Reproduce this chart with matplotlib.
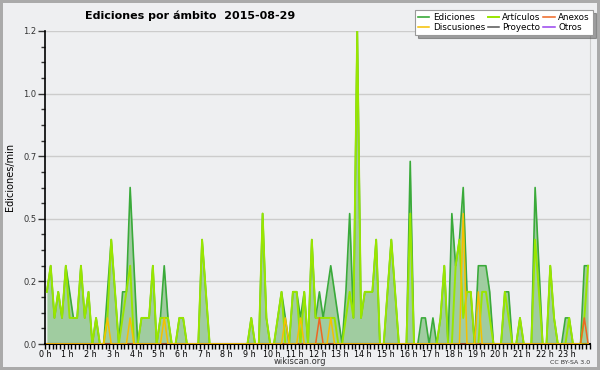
import numpy as np
import matplotlib
matplotlib.use("Agg")
import matplotlib.pyplot as plt
from matplotlib.ticker import MultipleLocator, FixedLocator, FormatStrFormatter
from matplotlib.lines import Line2D

# edits per minute, 10-minute bins, one row per hour
ediciones = [
    0.2, 0.3, 0.1, 0.2, 0.1, 0.3,
    0.2, 0.1, 0.1, 0.3, 0.1, 0.2,
    0.0, 0.1, 0.0, 0.0, 0.2, 0.4,
    0.2, 0.0, 0.2, 0.2, 0.6, 0.3,
    0.0, 0.1, 0.1, 0.1, 0.3, 0.0,
    0.1, 0.3, 0.1, 0.0, 0.0, 0.1,
    0.1, 0.0, 0.0, 0.0, 0.0, 0.4,
    0.2, 0.0, 0.0, 0.0, 0.0, 0.0,
    0.0, 0.0, 0.0, 0.0, 0.0, 0.0,
    0.1, 0.0, 0.0, 0.5, 0.1, 0.0,
    0.0, 0.1, 0.2, 0.1, 0.0, 0.2,
    0.2, 0.1, 0.2, 0.0, 0.4, 0.1,
    0.2, 0.1, 0.2, 0.3, 0.2, 0.1,
    0.0, 0.2, 0.5, 0.1, 1.2, 0.1,
    0.2, 0.2, 0.2, 0.4, 0.0, 0.0,
    0.2, 0.4, 0.2, 0.0, 0.0, 0.0,
    0.7, 0.0, 0.0, 0.1, 0.1, 0.0,
    0.1, 0.0, 0.1, 0.3, 0.0, 0.5,
    0.3, 0.4, 0.6, 0.2, 0.2, 0.0,
    0.3, 0.3, 0.3, 0.2, 0.0, 0.0,
    0.0, 0.2, 0.2, 0.0, 0.0, 0.1,
    0.0, 0.0, 0.0, 0.6, 0.3, 0.0,
    0.0, 0.3, 0.1, 0.0, 0.0, 0.1,
    0.1, 0.0, 0.0, 0.0, 0.3, 0.3,
]

articulos = [
    0.2, 0.3, 0.1, 0.2, 0.1, 0.3,
    0.1, 0.1, 0.1, 0.3, 0.1, 0.2,
    0.0, 0.1, 0.0, 0.0, 0.1, 0.4,
    0.2, 0.0, 0.1, 0.2, 0.3, 0.0,
    0.0, 0.1, 0.1, 0.1, 0.3, 0.0,
    0.1, 0.1, 0.1, 0.0, 0.0, 0.1,
    0.1, 0.0, 0.0, 0.0, 0.0, 0.4,
    0.2, 0.0, 0.0, 0.0, 0.0, 0.0,
    0.0, 0.0, 0.0, 0.0, 0.0, 0.0,
    0.1, 0.0, 0.0, 0.5, 0.1, 0.0,
    0.0, 0.1, 0.2, 0.0, 0.0, 0.2,
    0.2, 0.0, 0.2, 0.0, 0.4, 0.1,
    0.1, 0.1, 0.1, 0.1, 0.1, 0.0,
    0.0, 0.1, 0.2, 0.1, 1.2, 0.1,
    0.2, 0.2, 0.2, 0.4, 0.0, 0.0,
    0.2, 0.4, 0.2, 0.0, 0.0, 0.0,
    0.5, 0.0, 0.0, 0.0, 0.0, 0.0,
    0.0, 0.0, 0.1, 0.3, 0.0, 0.0,
    0.3, 0.4, 0.1, 0.2, 0.2, 0.0,
    0.0, 0.2, 0.2, 0.1, 0.0, 0.0,
    0.0, 0.2, 0.1, 0.0, 0.0, 0.1,
    0.0, 0.0, 0.0, 0.4, 0.2, 0.0,
    0.0, 0.3, 0.1, 0.0, 0.0, 0.0,
    0.1, 0.0, 0.0, 0.0, 0.1, 0.3,
]

# sparse series: bin index -> value
disc_bins = [16, 22, 31, 63, 67, 75, 110, 114]
disc_vals = [0.1, 0.1, 0.1, 0.1, 0.1, 0.1, 0.5, 0.2]
anexos_bins = [72, 142]
anexos_vals = [0.1, 0.1]

hour_labels = ["%d h" % h for h in range(24)]

n = len(ediciones)
x = (np.arange(n) + 0.5) / 6.0
discusiones = np.zeros(n)
discusiones[disc_bins] = disc_vals
anexos = np.zeros(n)
anexos[anexos_bins] = anexos_vals

bg = "#eeeff1"
fig = plt.figure(figsize=(6, 3.7), dpi=100)
fig.patch.set_facecolor(bg)
fig.patch.set_edgecolor("#aaaaaa")
fig.patch.set_linewidth(3)

ax = fig.add_axes([45/600, 26/370, 545/600, 313/370])
ax.set_facecolor(bg)

ax.fill_between(x, ediciones, color="#a0cca0", lw=0, zorder=2)
l_ed, = ax.plot(x, ediciones, color="#3aaa3a", lw=1.2, zorder=3)
l_art, = ax.plot(x, articulos, color="#99e600", lw=1.4, zorder=4)
l_an, = ax.plot(x, anexos, color="#ee6622", lw=1.1, zorder=5)
l_dis, = ax.plot(x, discusiones, color="#f5c000", lw=1.1, zorder=5)

ax.set_xlim(0, 24)
ax.set_ylim(0, 1.2)

ax.xaxis.set_major_locator(FixedLocator(range(24)))
ax.set_xticklabels(hour_labels)
ax.xaxis.set_minor_locator(MultipleLocator(1/6))
ax.yaxis.set_major_locator(FixedLocator([0, 0.24, 0.48, 0.72, 0.96, 1.2]))
ax.yaxis.set_major_formatter(FormatStrFormatter("%.1f"))
ax.yaxis.set_minor_locator(MultipleLocator(0.06))

ax.tick_params(axis="x", which="both", length=3.5, width=1, labelsize=5.8, pad=0.5)
ax.tick_params(axis="y", which="major", length=5, width=1, labelsize=6, pad=1, colors="#333333")
ax.tick_params(axis="y", which="minor", length=3, width=1, colors="#333333")
ax.grid(axis="y", which="major", color="#cccccc", lw=1)
ax.set_axisbelow(True)

ax.spines["top"].set_visible(False)
ax.spines["right"].set_color("#cccccc")
ax.spines["left"].set_linewidth(1.2)
ax.spines["bottom"].set_linewidth(1.5)

fig.text(85/600, 1 - 16/370, "Ediciones por ámbito  2015-08-29",
         fontsize=8, fontweight="bold", va="center", ha="left")
fig.text(10/600, 1 - 177/370, "Ediciones/min", rotation=90,
         fontsize=7, va="center", ha="center")
fig.text(300/600, 1 - 362/370, "wikiscan.org", fontsize=6, ha="center", va="center", color="#333333")
fig.text(590/600, 1 - 362/370, "CC BY-SA 3.0", fontsize=4.5, ha="right", va="center", color="#333333")

l_pro = Line2D([], [], color="#555555", lw=1.1)
l_otr = Line2D([], [], color="#9944ee", lw=1.1)
handles = [l_ed, l_dis, l_art, l_pro, l_an, l_otr]
labels = ["Ediciones", "Discusiones", "Artículos", "Proyecto", "Anexos", "Otros"]
leg = fig.legend(handles, labels, ncol=3, loc="upper right",
                 bbox_to_anchor=(593/600, 1 - 10/370), fontsize=6.3,
                 frameon=True, fancybox=False, shadow=True,
                 handlelength=1.3, handletextpad=0.4, columnspacing=0.3,
                 labelspacing=0.1, borderpad=0.35, borderaxespad=0)
leg.get_frame().set_edgecolor("#999999")
leg.get_frame().set_linewidth(0.8)

plt.savefig("out.png", dpi=100, facecolor=fig.get_facecolor(), edgecolor=fig.get_edgecolor())
